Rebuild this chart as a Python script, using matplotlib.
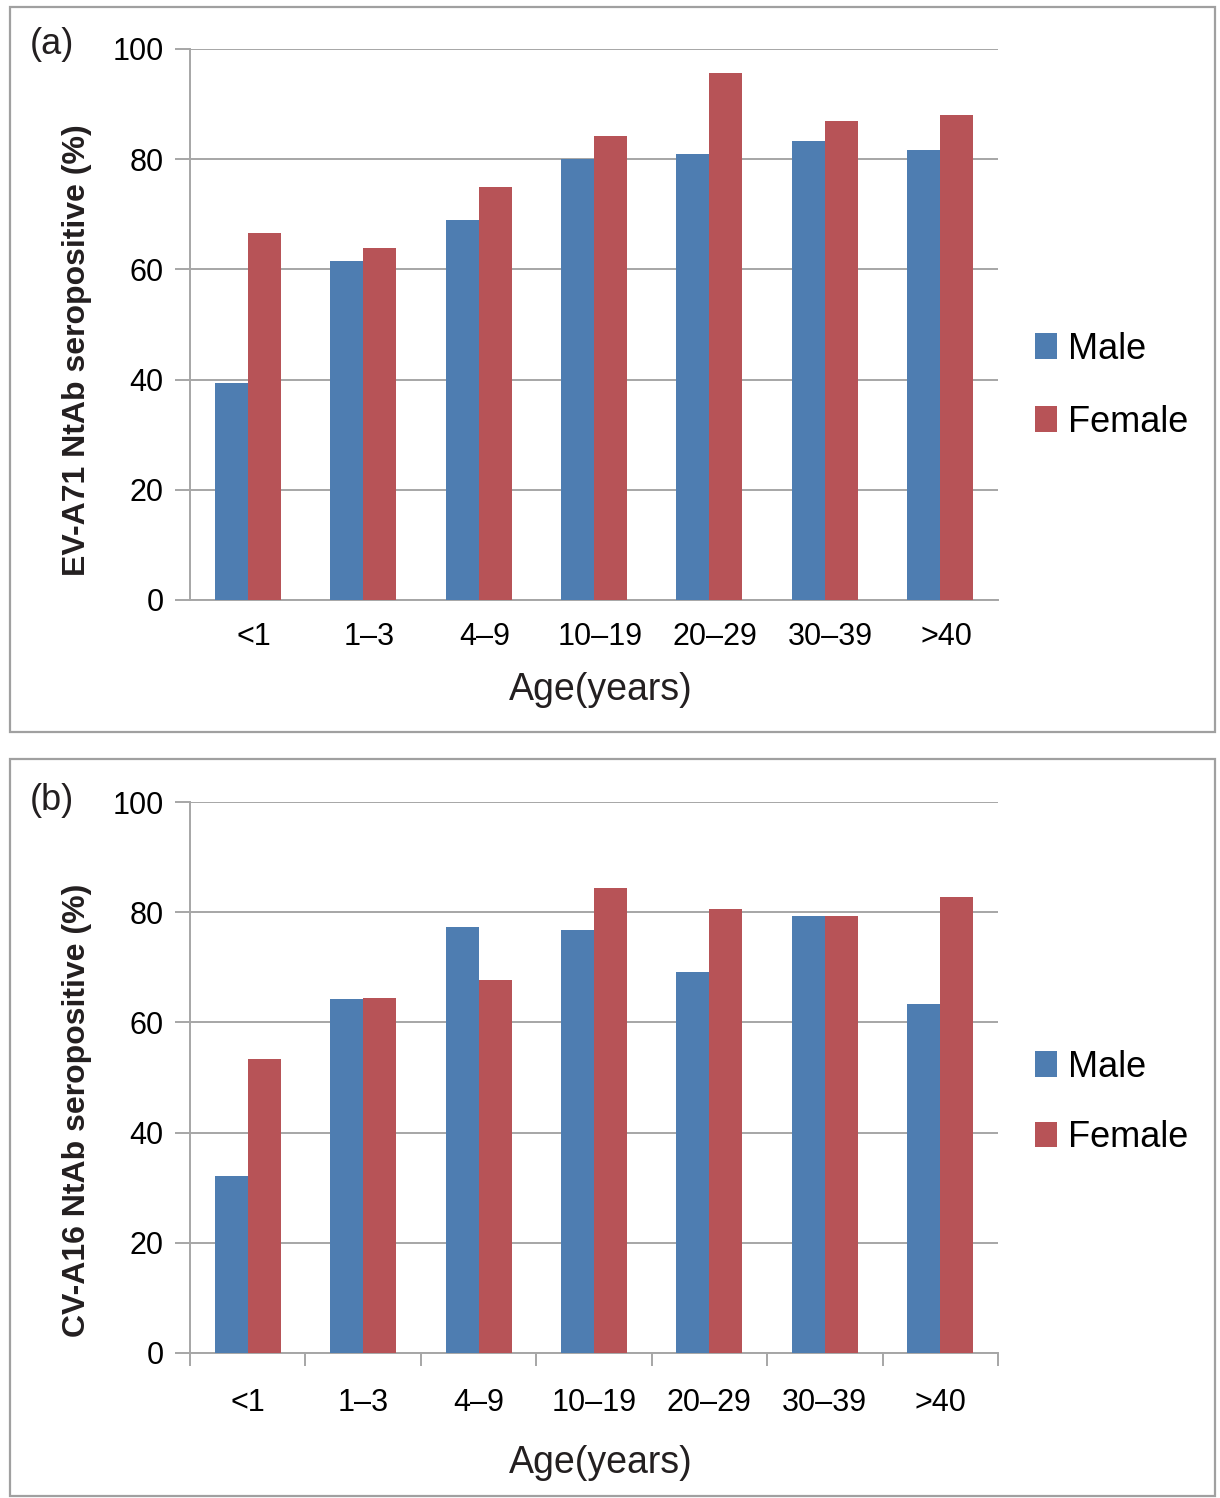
import numpy as np
import matplotlib
matplotlib.use('Agg')
import matplotlib.pyplot as plt
from matplotlib.patches import Rectangle
import matplotlib.transforms as mtransforms

# Data
age_groups = ['<1', '1\u20133', '4\u20139', '10\u201319', '20\u201329', '30\u201339', '>40']
ev71_male = [39.4, 61.5, 69.0, 80.0, 80.9, 83.3, 81.7]
ev71_female = [66.6, 63.8, 75.0, 84.2, 95.6, 86.9, 88.0]
cva16_male = [32.1, 64.2, 77.3, 76.8, 69.1, 79.3, 63.3]
cva16_female = [53.4, 64.4, 67.7, 84.4, 80.6, 79.3, 82.8]

male_color = '#4E7DB1'
female_color = '#B75357'
grid_color = '#A6A6A6'

plt.rcParams['font.family'] = ['Liberation Sans', 'DejaVu Sans']

W, H = 1220, 1498
fig = plt.figure(figsize=(W / 100, H / 100), dpi=100)


def fx(px):
    return px / W


def fy(py):
    return 1 - py / H


# Panel frames
fig.add_artist(Rectangle((fx(10), fy(732)), fx(1215) - fx(10), fy(7) - fy(732),
                         transform=fig.transFigure, fill=False, edgecolor='#A0A0A0', lw=1.6))
fig.add_artist(Rectangle((fx(10), fy(1496)), fx(1215) - fx(10), fy(759) - fy(1496),
                         transform=fig.transFigure, fill=False, edgecolor='#A0A0A0', lw=1.6))

panels = [
    dict(top=49, bottom=600, male=ev71_male, female=ev71_female, tag='(a)', tag_y=45,
         ylabel='EV-A71 NtAb seropositive (%)', ylab_y=350, xlab_y=690, leg_y=0.389,
         leg_space=1.05, xticks=False, lab_dx=6, pad=16),
    dict(top=802, bottom=1353, male=cva16_male, female=cva16_female, tag='(b)', tag_y=801,
         ylabel='CV-A16 NtAb seropositive (%)', ylab_y=1110, xlab_y=1463, leg_y=0.455,
         leg_space=0.98, xticks=True, lab_dx=0, pad=25),
]

x = np.arange(len(age_groups))
width = 0.286

for p in panels:
    ax = fig.add_axes([fx(190), fy(p['bottom']), fx(998) - fx(190), fy(p['top']) - fy(p['bottom'])])
    b1 = ax.bar(x - width / 2, p['male'], width, color=male_color, label='Male', zorder=3)
    b2 = ax.bar(x + width / 2, p['female'], width, color=female_color, label='Female', zorder=3)

    ax.set_xlim(-0.5, len(age_groups) - 0.5)
    ax.set_ylim(0, 100)
    ax.set_yticks(range(0, 101, 20))
    ax.yaxis.grid(True, color=grid_color, lw=1.4, zorder=0)
    ax.set_axisbelow(True)

    for s in ['top', 'right']:
        ax.spines[s].set_visible(False)
    for s in ['left', 'bottom']:
        ax.spines[s].set_color(grid_color)
        ax.spines[s].set_linewidth(1.4)

    ax.tick_params(axis='y', length=11, width=1.4, color=grid_color, labelsize=22, pad=8)
    ax.set_xticks(x)
    ax.set_xticklabels(age_groups)
    ax.tick_params(axis='x', which='major', length=0, labelsize=22, pad=p['pad'])
    if p['xticks']:
        ax.set_xticks(np.arange(-0.5, len(age_groups), 1.0), minor=True)
        ax.tick_params(axis='x', which='minor', length=9, width=1.4, color=grid_color)
    if p['lab_dx']:
        offset = mtransforms.ScaledTranslation(p['lab_dx'] / 100, 0, fig.dpi_scale_trans)
        for lab in ax.get_xticklabels():
            lab.set_transform(lab.get_transform() + offset)

    fig.text(fx(601), fy(p['xlab_y']), 'Age(years)', ha='center', va='center', fontsize=27, color='#231F20')
    fig.text(fx(77), fy(p['ylab_y']), p['ylabel'], rotation=90, ha='center', va='center',
             fontsize=23, fontweight='bold', color='#231F20')
    fig.text(fx(30), fy(p['tag_y']), p['tag'], ha='left', va='center', fontsize=26, color='#231F20')

    ax.legend(handles=[b1, b2], loc='center left', bbox_to_anchor=(1.046, p['leg_y']),
              frameon=False, fontsize=26, handlelength=0.6, handleheight=0.7,
              handletextpad=0.3, labelspacing=p['leg_space'], borderaxespad=0, borderpad=0)

plt.savefig('out.png', dpi=100)
